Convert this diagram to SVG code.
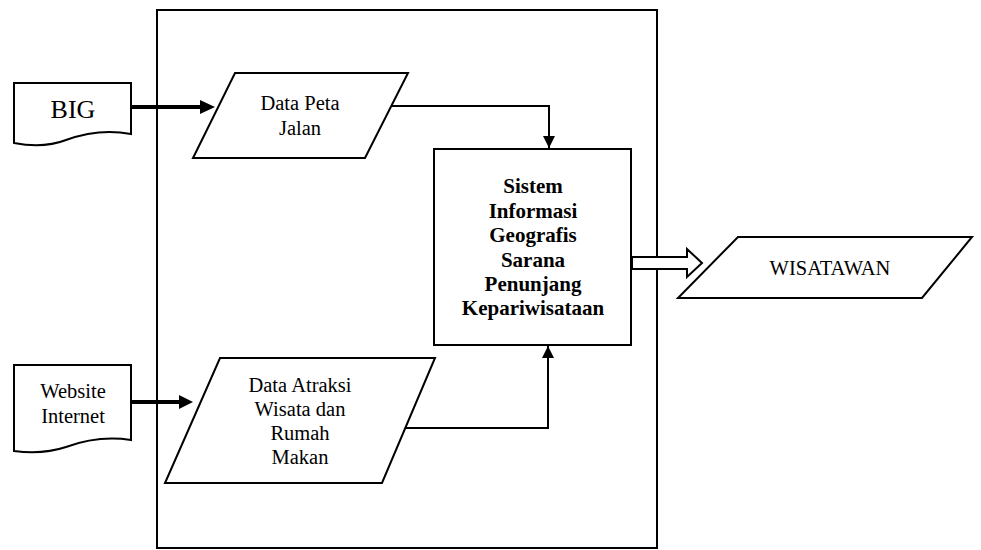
<svg xmlns="http://www.w3.org/2000/svg" width="981" height="550" viewBox="0 0 981 550">
  <style>
    .shape { fill: #fff; stroke: #000; stroke-width: 2; }
    .line { fill: none; stroke: #000; stroke-width: 2; }
    .thick { fill: none; stroke: #000; stroke-width: 4; }
    text { font-family: "Liberation Serif", "Times New Roman", serif; fill: #000; text-anchor: middle; }
    .t { font-size: 20.5px; }
    .bold { font-size: 21px; font-weight: bold; }
  </style>
  <defs>
    <marker id="head" viewBox="0 0 10 10" refX="10" refY="5" markerWidth="12" markerHeight="12" markerUnits="userSpaceOnUse" orient="auto">
      <path d="M0,0 L10,5 L0,10 Z" fill="#000"/>
    </marker>
  </defs>
  <rect width="981" height="550" fill="#fff"/>

  <!-- system boundary -->
  <rect id="boundary" x="157" y="10" width="500" height="538" class="line"/>

  <g id="big">
    <path class="shape" d="M14,83 H131 V134 C105,129 85,133 66,140 C48,147 30,146 14,143 Z"/>
    <text x="73" y="118" style="font-size:26px">BIG</text>
  </g>

  <g id="website">
    <path class="shape" d="M14,365 H131 V440 C105,436 85,440 66,447 C48,453 30,453 14,451 Z"/>
    <text class="t" x="73" y="398">Website</text>
    <text class="t" x="73" y="423">Internet</text>
  </g>

  <g id="data-peta">
    <polygon class="shape" points="235,73 408,73 365,158 193,158"/>
    <text class="t" x="300" y="110">Data Peta</text>
    <text class="t" x="300" y="135">Jalan</text>
  </g>

  <g id="data-atraksi">
    <polygon class="shape" points="220,358 435,358 382,483 165,483"/>
    <text class="t" x="300" y="392">Data Atraksi</text>
    <text class="t" x="300" y="416">Wisata dan</text>
    <text class="t" x="300" y="440">Rumah</text>
    <text class="t" x="300" y="464">Makan</text>
  </g>

  <g id="sistem">
    <rect class="shape" x="434" y="149" width="197" height="196"/>
    <text class="bold" x="533" y="193">Sistem</text>
    <text class="bold" x="533" y="218">Informasi</text>
    <text class="bold" x="533" y="242">Geografis</text>
    <text class="bold" x="533" y="267">Sarana</text>
    <text class="bold" x="533" y="291">Penunjang</text>
    <text class="bold" x="533" y="315">Kepariwisataan</text>
  </g>

  <g id="wisatawan">
    <polygon class="shape" points="738,237 972,237 922,298 678,298"/>
    <text class="t" x="830" y="275">WISATAWAN</text>
  </g>

  <g id="connectors">
    <!-- BIG to Data Peta Jalan -->
    <path class="thick" d="M131,107 H201"/>
    <path d="M200,100 L215,107 L200,114 Z" fill="#000"/>
    <!-- Website Internet to Data Atraksi -->
    <path class="thick" d="M131,402 H180"/>
    <path d="M179,395 L193,402 L179,409 Z" fill="#000"/>
    <!-- Data Peta Jalan to system -->
    <path class="line" d="M392,106 H549 V148" marker-end="url(#head)"/>
    <!-- Data Atraksi to system -->
    <path class="line" d="M405,428 H548 V346" marker-end="url(#head)"/>
    <!-- system to WISATAWAN (hollow arrow) -->
    <path class="shape" d="M632,257 H687 V249 L702,263 L687,277 V269 H632 Z"/>
  </g>
</svg>
